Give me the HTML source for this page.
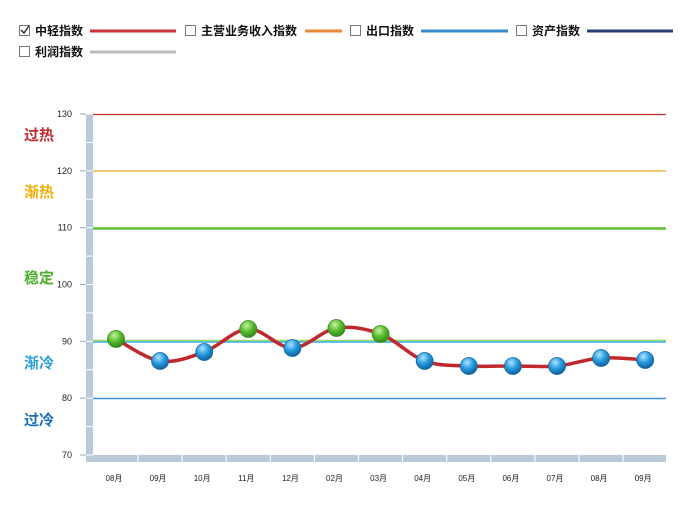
<!DOCTYPE html>
<html><head><meta charset="utf-8"><style>
body{margin:0;width:693px;height:524px;background:#fff;overflow:hidden;font-family:"Liberation Sans","Noto Sans CJK SC",sans-serif}
svg{position:absolute;left:0;top:0}
</style></head><body>
<svg width="693" height="524" xmlns="http://www.w3.org/2000/svg" font-family="Liberation Sans, Noto Sans CJK SC, sans-serif">
<defs>
<radialGradient id="gg" cx="0.4" cy="0.3" r="0.7"><stop offset="0" stop-color="#c8f0a0"/><stop offset="0.5" stop-color="#5cbf30"/><stop offset="1" stop-color="#2f8a18"/></radialGradient>
<radialGradient id="bg" cx="0.4" cy="0.3" r="0.7"><stop offset="0" stop-color="#b0e4ff"/><stop offset="0.5" stop-color="#2a9ee0"/><stop offset="1" stop-color="#10609e"/></radialGradient>
</defs>
<!-- legend -->
<g font-size="12" font-weight="bold" fill="#111">
<rect x="19.5" y="25.5" width="10" height="10" fill="#fff" stroke="#777"/><path d="M21 30 l3 3 l5 -7" stroke="#333" stroke-width="1.5" fill="none"/>
<text x="35" y="35">中轻指数</text><line x1="90" y1="31" x2="176" y2="31" stroke="#c8363a" stroke-width="3"/>
<rect x="185.5" y="25.5" width="10" height="10" fill="#fff" stroke="#777"/>
<text x="201" y="35">主营业务收入指数</text><line x1="305" y1="31" x2="342" y2="31" stroke="#e8893a" stroke-width="3"/>
<rect x="350.5" y="25.5" width="10" height="10" fill="#fff" stroke="#777"/>
<text x="366" y="35">出口指数</text><line x1="421" y1="31" x2="508" y2="31" stroke="#3a8ccc" stroke-width="3"/>
<rect x="516.5" y="25.5" width="10" height="10" fill="#fff" stroke="#777"/>
<text x="532" y="35">资产指数</text><line x1="587" y1="31" x2="673" y2="31" stroke="#2c3e70" stroke-width="3"/>
<rect x="19.5" y="46.5" width="10" height="10" fill="#fff" stroke="#777"/>
<text x="35" y="56">利润指数</text><line x1="90" y1="52" x2="176" y2="52" stroke="#bbb" stroke-width="3"/>
</g>
<!-- axis bars -->
<rect x="86" y="114" width="7" height="348" fill="#b9c9da"/>
<rect x="86" y="455" width="580" height="7" fill="#b9c9da"/>
<g stroke="#fff" stroke-width="1" id="ticks"></g>
<!-- threshold lines -->
<line x1="93" y1="114.5" x2="666" y2="114.5" stroke="#c0282c" stroke-width="1.2"/>
<line x1="93" y1="171" x2="666" y2="171" stroke="#f4b040" stroke-width="1.5"/>
<line x1="93" y1="228.5" x2="666" y2="228.5" stroke="#5cc02e" stroke-width="2.5"/>
<line x1="93" y1="340.5" x2="666" y2="340.5" stroke="#9ad860" stroke-width="1.5"/>
<line x1="93" y1="342" x2="666" y2="342" stroke="#30b0e0" stroke-width="1.5"/>
<line x1="93" y1="398.5" x2="666" y2="398.5" stroke="#3890d8" stroke-width="1.5"/>
<!-- y labels -->
<g font-size="9" fill="#222" text-anchor="end" id="ylab"></g>
<g font-size="15" font-weight="bold">
<text x="24" y="140" fill="#c0282c">过热</text>
<text x="24" y="197" fill="#f0b000">渐热</text>
<text x="24" y="283" fill="#4cb02a">稳定</text>
<text x="24" y="368" fill="#2aa0d8">渐冷</text>
<text x="24" y="425" fill="#1a70b8">过冷</text>
</g>
<g font-size="8" fill="#222" text-anchor="middle" id="xlab"></g>
<path id="curve" fill="none" stroke="#c0282c" stroke-width="3.5"/>
<g id="dots"></g>
</svg>
<script>
var ns="http://www.w3.org/2000/svg";
function el(t,a,p,txt){var e=document.createElementNS(ns,t);for(var k in a)e.setAttribute(k,a[k]);if(txt)e.textContent=txt;document.getElementById(p).appendChild(e);}
for(var v=70;v<=130;v+=5){var y=455-(v-70)*341/60;el('line',{x1:86,y1:y,x2:93,y2:y},'ticks');}
for(var v=70;v<=130;v+=10){var y=455-(v-70)*341/60;el('line',{x1:80,y1:y,x2:86,y2:y,stroke:'#9aaabb'},'ticks');el('text',{x:72,y:y+3},'ylab',String(v));}
var labs=['08月','09月','10月','11月','12月','02月','03月','04月','05月','06月','07月','08月','09月'];
for(var i=0;i<13;i++){var x=116+i*44.1;el('text',{x:x-2,y:481},'xlab',labs[i]);el('line',{x1:x+22,y1:455,x2:x+22,y2:462},'ticks');}
var ys=[339,361,352,329,348,328,334,361,366,366,366,358,360];
var P=ys.map(function(y,i){return [116+i*44.1,y];});
var d='M'+P[0][0]+' '+P[0][1];
for(var i=0;i<P.length-1;i++){var p0=P[i-1]||P[i],p1=P[i],p2=P[i+1],p3=P[i+2]||p2;
d+=' C'+(p1[0]+(p2[0]-p0[0])/6)+' '+(p1[1]+(p2[1]-p0[1])/6)+' '+(p2[0]-(p3[0]-p1[0])/6)+' '+(p2[1]-(p3[1]-p1[1])/6)+' '+p2[0]+' '+p2[1];}
document.getElementById('curve').setAttribute('d',d);
P.forEach(function(p){var g=p[1]<342;el('circle',{cx:p[0],cy:p[1],r:8.5,fill:g?'url(#gg)':'url(#bg)',stroke:g?'#3a8a20':'#1a6aa0','stroke-width':0.8},'dots');});
</script>
</body></html>
